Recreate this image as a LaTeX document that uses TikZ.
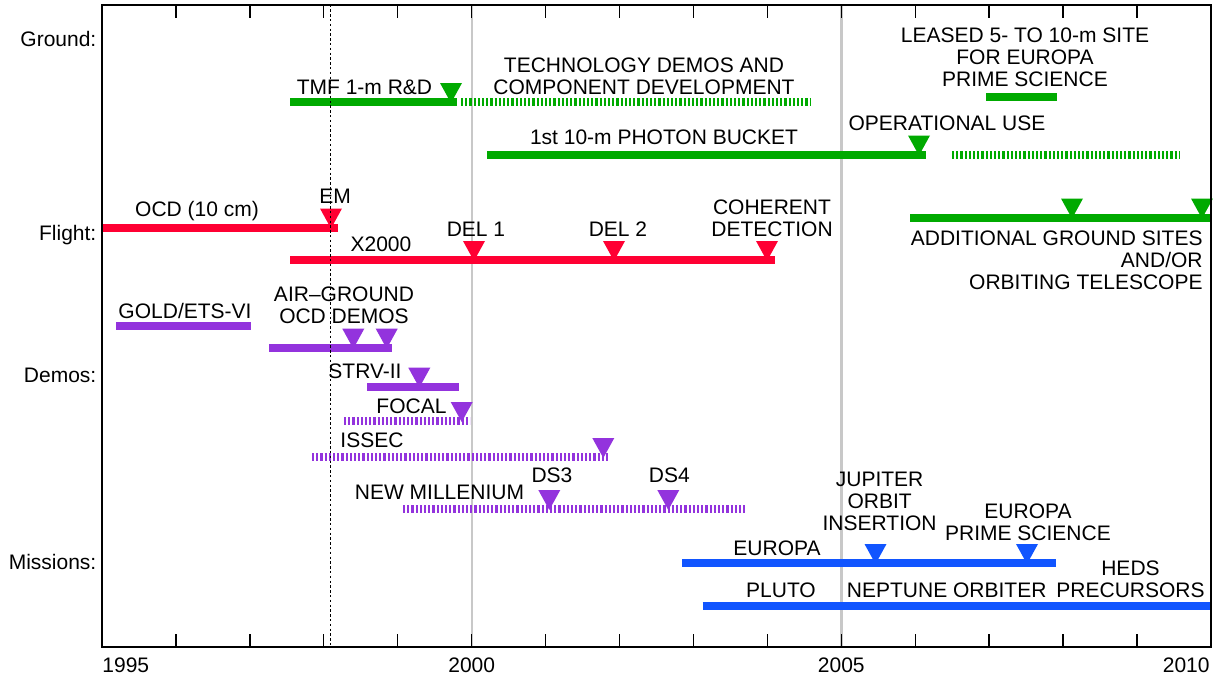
\documentclass[tikz,border=0pt]{standalone}
\usepackage{fontspec}
\setmainfont{Liberation Sans}
\definecolor{tgreen}{RGB}{0,170,0}
\definecolor{tred}{RGB}{255,0,51}
\definecolor{tpurple}{RGB}{147,51,221}
\definecolor{tblue}{RGB}{17,85,255}
\definecolor{tgray}{RGB}{200,200,200}
\newcommand\milestone[3]{\fill[#1] (#2-11,#3-19) -- (#2+11,#3-19) -- (#2,#3+1) -- cycle;}
\tikzset{
  solidbar/.style={line width=4pt},
  dashbar/.style={line width=4pt, dash pattern=on 1.1pt off 1pt},
  lbl/.style={inner sep=0pt, anchor=base, align=center},
  rowlbl/.style={inner sep=0pt, anchor=base east, align=right},
  yearline/.style={tgray, line width=1.2pt},
  every node/.style={font=\fontsize{10.5}{11}\selectfont},
}
\begin{document}
\begin{tikzpicture}[x=0.5pt,y=-0.5pt]
\useasboundingbox (0,0) rectangle (1222,676);
% grid lines
\draw[yearline] (471.7,4.5) -- (471.7,647);
\draw[yearline] (841.3,4.5) -- (841.3,647);
% ticks
\foreach \i in {1,...,14} {
  \draw[line width=0.7pt] (102+\i*73.93,4.5) -- ++(0,13);
  \draw[line width=0.7pt] (102+\i*73.93,647) -- ++(0,-13);
}
% row labels
\node[rowlbl] (lground) at (96.7,46) {Ground:};
\node[rowlbl] (lflight) at (96.7,240) {Flight:};
\node[rowlbl] (ldemos) at (96.7,382.7) {Demos:};
\node[rowlbl] (lmissions) at (96.7,569) {Missions:};
% year labels
\node[inner sep=0pt, anchor=base west] (y1995) at (102,672) {1995};
\node[lbl] (y2000) at (471.7,672) {2000};
\node[lbl] (y2005) at (841.3,672) {2005};
\node[inner sep=0pt, anchor=base east] (y2010) at (1210,672) {2010};

% ---------- Ground ----------
\draw[solidbar, tgreen] (290,102) -- (457,102);
\milestone{tgreen}{451}{102}
\node[lbl] (tmf) at (364.5,94) {TMF 1-m R\&D};
\draw[dashbar, tgreen] (461,102) -- (811,102);
\node[lbl] (tech) at (644,94) {TECHNOLOGY DEMOS AND\\COMPONENT DEVELOPMENT};
\draw[solidbar, tgreen] (487,154.5) -- (926,154.5);
\milestone{tgreen}{919}{154.5}
\node[lbl] (bucket) at (664,144) {1st 10-m PHOTON BUCKET};
\node[lbl] (opuse) at (947,130.7) {OPERATIONAL USE};
\draw[dashbar, tgreen] (952,154.5) -- (1179,154.5);
\node[lbl] (leased) at (1025,86.5) {LEASED 5- TO 10-m SITE\\FOR EUROPA\\PRIME SCIENCE};
\draw[solidbar, tgreen] (986,97) -- (1057,97);
\draw[solidbar, tgreen] (910,217.5) -- (1211,217.5);
\milestone{tgreen}{1072}{217.5}
\milestone{tgreen}{1202}{217.5}
\node[rowlbl] (addl) at (1203,289.3) {ADDITIONAL GROUND SITES\\AND/OR\\ORBITING TELESCOPE};

% ---------- Flight ----------
\draw[solidbar, tred] (102,227.5) -- (338,227.5);
\node[lbl] (ocd) at (197,216.7) {OCD (10 cm)};
\milestone{tred}{331}{227.5}
\node[lbl] (em) at (335,203.3) {EM};
\draw[solidbar, tred] (290,260) -- (775,260);
\node[lbl] (x2000) at (381,251.7) {X2000};
\milestone{tred}{474}{260}
\milestone{tred}{614}{260}
\milestone{tred}{767}{260}
\node[lbl] (del1) at (476,236) {DEL 1};
\node[lbl] (del2) at (618,236) {DEL 2};
\node[lbl] (coh) at (772,236) {COHERENT\\DETECTION};

% ---------- Demos ----------
\draw[solidbar, tpurple] (116,326) -- (251,326);
\node[lbl] (gold) at (185,318.3) {GOLD/ETS-VI};
\draw[solidbar, tpurple] (269,347.7) -- (392,347.7);
\node[lbl] (air) at (344,323.3) {AIR–GROUND\\OCD DEMOS};
\milestone{tpurple}{353.3}{347.7}
\milestone{tpurple}{386.7}{347.7}
\draw[solidbar, tpurple] (367,386.7) -- (459,386.7);
\node[lbl] (strv) at (365,378.3) {STRV-II};
\milestone{tpurple}{419.3}{386.7}
\draw[dashbar, tpurple] (344,421) -- (470,421);
\node[lbl] (focal) at (411.5,413.3) {FOCAL};
\milestone{tpurple}{461.7}{421}
\draw[dashbar, tpurple] (312,457) -- (608,457);
\node[lbl] (issec) at (372,447.7) {ISSEC};
\milestone{tpurple}{603.3}{457}
\draw[dashbar, tpurple] (403,509) -- (747,509);
\node[lbl] (nm) at (439.5,499) {NEW MILLENIUM};
\milestone{tpurple}{549.3}{509}
\milestone{tpurple}{668.3}{509}
\node[lbl] (ds3) at (552,482.3) {DS3};
\node[lbl] (ds4) at (669.3,482.3) {DS4};

% ---------- Missions ----------
\draw[solidbar, tblue] (682,563) -- (1055.5,563);
\node[lbl] (europa) at (777,555) {EUROPA};
\milestone{tblue}{875.5}{563}
\milestone{tblue}{1027}{563}
\node[lbl] (joi) at (879.6,530) {JUPITER\\ORBIT\\INSERTION};
\node[lbl] (eps) at (1028,540) {EUROPA\\PRIME SCIENCE};
\draw[solidbar, tblue] (702.7,606) -- (1211,606);
\node[lbl] (pluto) at (781,597.3) {PLUTO};
\node[lbl] (neptune) at (946.7,597.3) {NEPTUNE ORBITER};
\node[lbl] (heds) at (1130.5,597.3) {HEDS\\PRECURSORS};

% dotted line and frame on top
\draw[line width=0.5pt, dash pattern=on 1.2pt off 1.2pt] (330,4.5) -- (330,647);
\draw[line width=1pt] (102,4.5) rectangle (1211,647);
\end{tikzpicture}
\end{document}
